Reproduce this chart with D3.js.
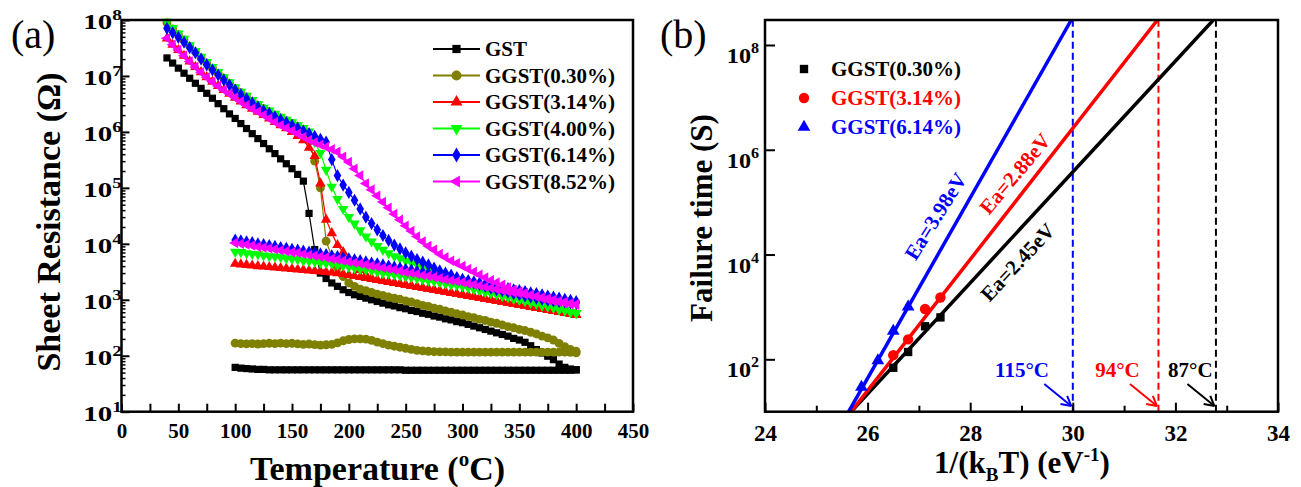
<!DOCTYPE html>
<html><head><meta charset="utf-8">
<script src="https://cdn.jsdelivr.net/npm/d3@7"></script>
<style>
body{margin:0;background:#fff;}
svg text{font-family:"Liberation Serif","Times New Roman",serif;}
</style>
</head><body>
<svg id="c" width="1301" height="487"></svg>
<script>
// ---------------- Panel (a) data ----------------
const tempHeat = [40,45,50,55,60,65,70,75,80,85,90,95,100,105,110,115,120,125,130,135,140,145,150,155,160,165,170,175,180,185,190,195,200,205,210,215,220,225,230,235,240,245,250,255,260,265,270,275,280,285,290,295,300,305,310,315,320,325,330,335,340,345,350,355,360,365,370,375,380,385,390,395,400];
const tempCool = [100,105,110,115,120,125,130,135,140,145,150,155,160,165,170,175,180,185,190,195,200,205,210,215,220,225,230,235,240,245,250,255,260,265,270,275,280,285,290,295,300,305,310,315,320,325,330,335,340,345,350,355,360,365,370,375,380,385,390,395,400];
const seriesNamesA = ["GST","GGST(0.30%)","GGST(3.14%)","GGST(4.00%)","GGST(6.14%)","GGST(8.52%)"];

const gstHeat = [2.1e7,1.7e7,1.38e7,1.12e7,9.1e6,7.4e6,6.0e6,4.9e6,4.0e6,3.2e6,
 2.6e6,2.1e6,1.74e6,1.41e6,1.15e6,9.3e5,7.6e5,6.2e5,5.0e5,4.1e5,
 3.3e5,2.7e5,2.2e5,1.74e5,1.32e5,3.5e4,7.9e3,3.0e3,2.4e3,2.0e3,
 1740,1510,1350,1230,1150,1070,1000,933,871,813,
 776,724,692,646,617,575,550,513,490,457,
 437,407,389,363,339,316,295,275,257,240,
 224,204,191,174,151,129,112,98,85,71,
 62,58,56];
const gstCool = [62,60,59,58,57,57,56,56,56,56,
 56,56,56,56,56,56,56,56,56,56,
 56,56,56,56,56,56,56,56,56,56,
 55,55,55,55,55,55,55,55,55,55,
 55,55,55,55,55,55,55,55,55,55,
 55,55,55,55,55,55,55,55,55,55,
 56];
const g030Heat = [8.9e7,6.9e7,5.5e7,4.4e7,3.4e7,2.7e7,2.1e7,1.7e7,1.38e7,1.12e7,
 9.1e6,7.4e6,6.0e6,5.0e6,4.2e6,3.55e6,3.0e6,2.6e6,2.3e6,2.0e6,
 1.78e6,1.58e6,1.41e6,1.26e6,1.12e6,7.1e5,3.0e5,1.0e5,1.12e4,5900,
 3800,2600,2000,1740,1550,1450,1350,1260,1200,1120,
 1070,1020,955,912,851,794,759,708,676,631,
 603,562,537,501,479,447,427,398,380,355,
 331,316,295,282,263,245,224,209,191,166,
 145,129,120];
const g030Cool = [168,165,163,165,162,165,167,165,168,165,
 167,163,160,162,158,155,157,160,170,185,
 195,200,200,198,188,175,165,155,148,142,
 136,130,125,122,120,118,117,117,116,116,
 116,116,116,116,116,116,116,116,116,116,
 116,116,116,116,116,116,116,116,116,115,
 113];
const g314Heat = [4.7e7,3.6e7,2.9e7,2.3e7,1.82e7,1.45e7,1.17e7,9.5e6,7.9e6,6.6e6,
 5.6e6,4.8e6,4.1e6,3.5e6,3.0e6,2.6e6,2.3e6,2.0e6,1.74e6,1.51e6,
 1.32e6,1.17e6,1.0e6,8.5e5,7.1e5,5.2e5,3.7e5,1.2e5,2.7e4,1.55e4,
 9500,7100,5200,4200,3400,2800,2450,2260,2170,2090,
 2000,1920,1850,1770,1700,1640,1570,1510,1450,1390,
 1330,1280,1230,1180,1130,1090,1040,1000,960,920,
 883,847,813,780,748,718,689,661,634,608,
 583,560,537];
const g314Cool = [4400,4300,4200,4100,4000,3940,3850,3780,3700,3620,
 3550,3480,3400,3330,3270,3200,3130,3070,3000,2880,
 2770,2660,2560,2450,2360,2260,2170,2090,2000,1920,
 1850,1770,1700,1640,1570,1510,1450,1390,1330,1280,
 1230,1180,1130,1090,1040,1000,960,920,883,847,
 813,780,748,718,689,661,634,608,583,560,
 537];
const g400Heat = [9.3e7,7.2e7,5.7e7,4.6e7,3.55e7,2.8e7,2.2e7,1.78e7,1.45e7,1.17e7,
 9.5e6,7.7e6,6.3e6,5.2e6,4.4e6,3.7e6,3.15e6,2.7e6,2.4e6,2.1e6,
 1.86e6,1.65e6,1.48e6,1.32e6,1.17e6,1.02e6,6.6e5,4.2e5,2.1e5,1.05e5,
 6.3e4,4.2e4,3.0e4,2.3e4,1.74e4,1.35e4,1.1e4,9100,7800,6800,
 6000,5500,5000,4600,4200,3800,3550,3240,2950,2700,
 2400,2140,1860,1680,1560,1480,1380,1320,1260,1170,
 1120,1050,1000,955,891,851,794,759,724,676,
 646,603,575];
const g400Cool = [7200,7100,6800,6600,6500,6200,6000,5900,5750,5500,
 5400,5250,5000,4900,4800,4600,4500,4400,4200,4100,
 3900,3700,3550,3450,3300,3160,3000,2950,2800,2700,
 2600,2500,2400,2300,2200,2140,2040,1950,1860,1820,
 1740,1660,1550,1480,1380,1320,1260,1170,1120,1050,
 1000,955,891,851,794,759,724,676,646,603,
 575];
const g614Heat = [7.1e7,5.9e7,4.9e7,4.0e7,3.2e7,2.6e7,2.0e7,1.58e7,1.28e7,1.04e7,
 8.5e6,6.9e6,5.6e6,4.65e6,3.9e6,3.3e6,2.8e6,2.4e6,2.15e6,1.86e6,
 1.65e6,1.47e6,1.31e6,1.17e6,1.04e6,9.3e5,8.3e5,7.4e5,6.6e5,3.2e5,
 1.66e5,1.12e5,8.3e4,6.0e4,4.2e4,3.0e4,2.3e4,1.78e4,1.41e4,1.15e4,
 9500,8100,6900,6000,5250,4700,4200,3700,3300,3000,
 2750,2500,2300,2140,2000,1860,1740,1620,1510,1450,
 1380,1290,1230,1170,1120,1070,1020,977,955,933,
 912,891,871];
const g614Cool = [11700,11300,10900,10500,10000,9700,9300,9000,8600,8300,
 8000,7700,7400,7100,6900,6600,6400,6100,5900,5600,
 5400,5200,5000,4750,4550,4400,4200,4000,3850,3700,
 3500,3400,3240,3100,2970,2850,2720,2600,2500,2400,
 2300,2200,2100,2000,1900,1820,1740,1660,1580,1510,
 1460,1400,1330,1290,1230,1170,1120,1070,1020,977,
 933];
const g852Heat = [4.7e7,3.6e7,2.9e7,2.3e7,1.82e7,1.45e7,1.17e7,9.5e6,7.9e6,6.6e6,
 5.6e6,4.8e6,4.1e6,3.5e6,3.0e6,2.6e6,2.3e6,2.0e6,1.74e6,1.51e6,
 1.32e6,1.17e6,1.05e6,9.3e5,8.1e5,7.2e5,6.5e5,5.9e5,5.4e5,4.9e5,
 4.4e5,3.6e5,2.9e5,2.2e5,1.66e5,1.2e5,9.3e4,7.2e4,5.6e4,4.4e4,
 3.4e4,2.7e4,2.1e4,1.7e4,1.35e4,1.1e4,9100,7800,6600,5750,
 5000,4500,4000,3550,3160,2800,2500,2240,2040,1860,
 1660,1510,1410,1320,1230,1150,1070,1000,955,912,
 871,832,813];
const g852Cool = [10400,10000,9700,9300,8900,8600,8300,8000,7700,7400,
 7100,6900,6600,6300,6100,5900,5700,5400,5250,5000,
 4800,4600,4450,4250,4050,3900,3750,3600,3450,3300,
 3100,3000,2900,2750,2650,2550,2420,2300,2220,2140,
 2050,1960,1870,1780,1700,1620,1550,1480,1410,1350,
 1300,1250,1190,1150,1100,1050,1000,955,910,870,
 830];
const xTicksA = [0,50,100,150,200,250,300,350,400,450];
const yTicksA = [1e1,1e2,1e3,1e4,1e5,1e6,1e7,1e8];

// ---------------- Panel (b) data ----------------
const seriesNamesB = ["GGST(0.30%)","GGST(3.14%)","GGST(6.14%)"];
const b030X = [26.50,26.79,27.12,27.42];
const b030Y = [69,138,427,631];
const b314X = [26.50,26.79,27.12,27.42];
const b314Y = [120,240,912,1510];
const b614X = [25.88,26.20,26.50,26.79];
const b614Y = [29.5,95,347,1000];
const fit030X = [25.68,32.74], fit030Y = [10,3e8];
const fit314X = [25.68,31.65], fit314Y = [10,3e8];
const fit614X = [25.63,29.97], fit614Y = [10,3e8];
const extrapX = [32.79,31.67,30.0];          // 10-year points for 0.30%, 3.14%, 6.14%
const tempLabels = ["87\u00B0C","94\u00B0C","115\u00B0C"];
const eaLabels = ["Ea=2.45eV","Ea=2.88eV","Ea=3.98eV"];
const xTicksB = [24,26,28,30,32,34];
const yTicksB = [1e2,1e4,1e6,1e8];

// ---------------- drawing ----------------
const svg = d3.select("#c");
const BOLD = "bold";

function styleAxis(g, size){
  g.select(".domain").remove();
  g.selectAll(".tick line").attr("stroke","#000").attr("stroke-width",2);
  g.selectAll(".tick text").attr("font-family","'Liberation Serif','Times New Roman',serif")
    .attr("font-size",size).attr("font-weight",BOLD).attr("fill","#000");
}
function supLabels(g, ticks, scale, x, dyBase, size, supSize, supDy, sx){
  ticks.forEach(v=>{
    const t = g.append("text").attr("transform",`translate(${x},${scale(v)+dyBase}) scale(${sx},1)`)
      .attr("text-anchor","end").attr("font-size",size).attr("font-weight",BOLD);
    t.append("tspan").text("10");
    t.append("tspan").attr("font-size",supSize).attr("dy",supDy).text(Math.round(Math.log10(v)));
  });
}

// ===== Panel (a) =====
const xA = d3.scaleLinear().domain([0,450]).range([121.5,633]);
const yA = d3.scaleLog().domain([10,1e8]).range([411.7,20]);
const gA = svg.append("g");

const seriesA = [
  {heat:gstHeat, cool:gstCool, color:"#000000", sym:d3.symbolSquare, size:52, rot:0},
  {heat:g030Heat, cool:g030Cool, color:"#808000", sym:d3.symbolCircle, size:62, rot:0},
  {heat:g314Heat, cool:g314Cool, color:"#ff0000", sym:d3.symbolTriangle, size:48, rot:0},
  {heat:g400Heat, cool:g400Cool, color:"#00ff00", sym:d3.symbolTriangle, size:48, rot:180},
  {heat:g614Heat, cool:g614Cool, color:"#0000ff", sym:d3.symbolDiamond, size:50, rot:0},
  {heat:g852Heat, cool:g852Cool, color:"#ff00ff", sym:d3.symbolTriangle, size:48, rot:-90}
];
const lineA = d3.line().x(d=>xA(d[0])).y(d=>yA(d[1]));
seriesA.forEach(s=>{
  const sets = [tempHeat.map((t,i)=>[t,s.heat[i]]), tempCool.map((t,i)=>[t,s.cool[i]])];
  sets.forEach(pts=>{
    gA.append("path").attr("d",lineA(pts)).attr("fill","none").attr("stroke",s.color).attr("stroke-width",1.2);
    gA.append("g").selectAll("path").data(pts).join("path")
      .attr("d",d3.symbol(s.sym,s.size))
      .attr("transform",d=>`translate(${xA(d[0])},${yA(d[1])}) rotate(${s.rot})`)
      .attr("fill",s.color);
  });
});

// axes (a)
const axXA = gA.append("g").attr("transform","translate(0,411.7)")
  .call(d3.axisBottom(xA).tickValues(d3.range(0,451,25)).tickSize(-8).tickPadding(11)
    .tickFormat(d=> d%50===0 ? d : ""));
styleAxis(axXA,21);
const axYA = gA.append("g").attr("transform","translate(121.5,0)")
  .call(d3.axisLeft(yA).tickValues(yTicksA).tickSize(-8).tickFormat(""));
styleAxis(axYA,21);
const minorA = [];
yTicksA.slice(0,-1).forEach(v=>{for(let k=2;k<10;k++) minorA.push(v*k);});
const axYAm = gA.append("g").attr("transform","translate(121.5,0)")
  .call(d3.axisLeft(yA).tickValues(minorA).tickSize(-4).tickFormat(""));
styleAxis(axYAm,21);
axYAm.selectAll(".tick line").attr("stroke-width",1.5);
supLabels(gA, yTicksA, yA, 122, 9, 21, 14, -9, 1.38);
gA.append("rect").attr("x",121.5).attr("y",20).attr("width",633-121.5).attr("height",411.7-20)
  .attr("fill","none").attr("stroke","#000").attr("stroke-width",2.5);

// titles (a)
gA.append("text").attr("transform","translate(60,222) rotate(-90)").attr("text-anchor","middle")
  .attr("font-size",34).attr("font-weight",BOLD).text("Sheet Resistance (\u03A9)");
const tA = gA.append("text").attr("x",377.5).attr("y",480).attr("text-anchor","middle")
  .attr("font-size",34).attr("font-weight",BOLD);
tA.append("tspan").text("Temperature (");
tA.append("tspan").attr("font-size",21).attr("dy",-14).text("o");
tA.append("tspan").attr("dy",14).text("C)");
gA.append("text").attr("x",11).attr("y",48).attr("font-size",40).text("(a)");

// legend (a)
const legA = gA.append("g");
seriesNamesA.forEach((n,i)=>{
  const s = seriesA[i], y = 49 + i*26.5;
  legA.append("line").attr("x1",433).attr("x2",480).attr("y1",y).attr("y2",y).attr("stroke",s.color).attr("stroke-width",2);
  legA.append("path").attr("d",d3.symbol(s.sym,s.size*1.3)).attr("transform",`translate(456.5,${y}) rotate(${s.rot})`).attr("fill",s.color);
  legA.append("text").attr("x",485).attr("y",y).attr("dy","0.35em").attr("font-size",21).attr("font-weight",BOLD).text(n);
});

// ===== Panel (b) =====
const xB = d3.scaleLinear().domain([24,34]).range([765,1278]);
const yB = d3.scaleLog().domain([10,3e8]).range([411.7,20]);
const gB = svg.append("g");
svg.append("defs").append("clipPath").attr("id","clipB").append("rect")
  .attr("x",765).attr("y",20).attr("width",1278-765).attr("height",411.7-20);

const colorsB = ["#000000","#ff0000","#0000ff"];
const ptsB = [[b030X,b030Y],[b314X,b314Y],[b614X,b614Y]];
const fitsB = [[fit030X,fit030Y],[fit314X,fit314Y],[fit614X,fit614Y]];
const symB = [{sym:d3.symbolSquare,size:70},{sym:d3.symbolCircle,size:85},{sym:d3.symbolTriangle,size:70}];
const lineB = d3.line().x(d=>xB(d[0])).y(d=>yB(d[1]));
const clipG = gB.append("g").attr("clip-path","url(#clipB)");

extrapX.forEach((x,i)=>{
  clipG.append("line").attr("x1",xB(x)).attr("x2",xB(x)).attr("y1",yB(10)).attr("y2",yB(3e8))
    .attr("stroke",colorsB[i]).attr("stroke-width",2).attr("stroke-dasharray","7,4");
});
fitsB.forEach((f,i)=>{
  clipG.append("path").attr("d",lineB(f[0].map((x,j)=>[x,f[1][j]]))).attr("fill","none")
    .attr("stroke",colorsB[i]).attr("stroke-width",3.5);
});
ptsB.forEach((p,i)=>{
  gB.append("g").selectAll("path").data(p[0].map((x,j)=>[x,p[1][j]])).join("path")
    .attr("d",d3.symbol(symB[i].sym,symB[i].size))
    .attr("transform",d=>`translate(${xB(d[0])},${yB(d[1])})`).attr("fill",colorsB[i]);
});

// axes (b)
const axXB = gB.append("g").attr("transform","translate(0,411.7)")
  .call(d3.axisBottom(xB).tickValues(d3.range(24,34.1,1)).tickSize(-8).tickPadding(13)
    .tickFormat(d=> d%2===0 ? d : ""));
styleAxis(axXB,23);
axXB.selectAll(".tick line").attr("y2",d=> d%2===0 ? -9 : -6);
const axYB = gB.append("g").attr("transform","translate(765,0)")
  .call(d3.axisLeft(yB).tickValues(yTicksB).tickSize(-10).tickFormat(""));
styleAxis(axYB,23);
supLabels(gB, yTicksB, yB, 759, 18, 21, 14, -10, 1.15);
gB.append("rect").attr("x",765).attr("y",20).attr("width",1278-765).attr("height",411.7-20)
  .attr("fill","none").attr("stroke","#000").attr("stroke-width",2.5);

// annotations (b)
const labelPosB = [{x:32.29},{x:30.87},{x:29.01}];
extrapX.forEach((x,i)=>{
  gB.append("text").attr("x",xB(labelPosB[i].x)).attr("y",yB(46)).attr("text-anchor","middle")
    .attr("font-size",21).attr("font-weight",BOLD).attr("fill",colorsB[i]).text(tempLabels[i]);
  const ex = xB(x) - 1.5, ey = yB(12.8);
  const sx = ex - 27, sy = ey - 22;
  const ang = Math.atan2(ey-sy, ex-sx), L = 11;
  gB.append("line").attr("x1",sx).attr("y1",sy).attr("x2",ex).attr("y2",ey).attr("stroke",colorsB[i]).attr("stroke-width",2);
  [0.5,-0.5].forEach(a=>{
    gB.append("line").attr("x1",ex).attr("y1",ey)
      .attr("x2",ex - L*Math.cos(ang+a)).attr("y2",ey - L*Math.sin(ang+a))
      .attr("stroke",colorsB[i]).attr("stroke-width",2);
  });
});
const eaPos = [{x:28.92,y:7.2e3,a:-47},{x:28.87,y:3.5e5,a:-50},{x:27.32,y:5.4e4,a:-58}];
eaLabels.forEach((t,i)=>{
  gB.append("text").attr("transform",`translate(${xB(eaPos[i].x)},${yB(eaPos[i].y)}) rotate(${eaPos[i].a})`)
    .attr("text-anchor","middle").attr("dy","0.35em").attr("font-size",21).attr("font-weight",BOLD)
    .attr("fill",colorsB[i]).text(t);
});

// legend (b)
seriesNamesB.forEach((n,i)=>{
  const y = 69 + i*29;
  gB.append("path").attr("d",d3.symbol(symB[i].sym,symB[i].size)).attr("transform",`translate(804,${y})`).attr("fill",colorsB[i]);
  gB.append("text").attr("x",831).attr("y",y).attr("dy","0.35em").attr("font-size",21).attr("font-weight",BOLD)
    .attr("fill",colorsB[i]).text(n);
});

// titles (b)
gB.append("text").attr("transform","translate(712,218) rotate(-90)").attr("text-anchor","middle")
  .attr("font-size",31).attr("font-weight",BOLD).text("Failure time (S)");
const tB = gB.append("text").attr("x",1022).attr("y",473).attr("text-anchor","middle")
  .attr("font-size",31).attr("font-weight",BOLD);
tB.append("tspan").text("1/(k");
tB.append("tspan").attr("font-size",19).attr("dy",8).text("B");
tB.append("tspan").attr("dy",-8).text("T) (eV");
tB.append("tspan").attr("font-size",19).attr("dy",-12).text("-1");
tB.append("tspan").attr("dy",12).text(")");
gB.append("text").attr("x",660).attr("y",48).attr("font-size",40).text("(b)");
</script>
</body></html>
